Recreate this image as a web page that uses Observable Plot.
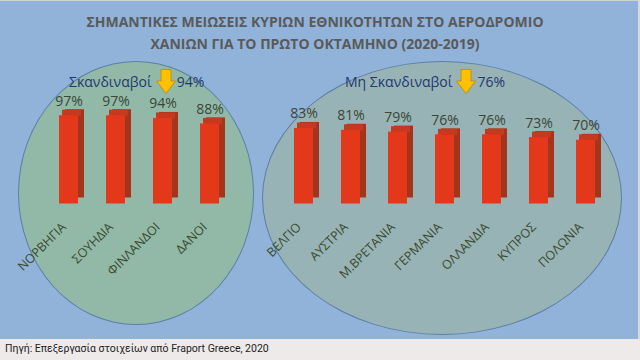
<!DOCTYPE html>
<html>
<head>
<meta charset="utf-8">
<script src="https://cdn.jsdelivr.net/npm/d3@7"></script>
<script src="https://cdn.jsdelivr.net/npm/@observablehq/plot@0.6"></script>
<style>
  html, body { margin: 0; padding: 0; }
  body { width: 640px; height: 360px; overflow: hidden; font-family: "Open Sans", sans-serif; }
  #root { position: relative; width: 640px; height: 360px; background: #EEEAEA; overflow: hidden; }
  #panel { position: absolute; left: 0; top: 1px; width: 638px; height: 338px; background: #91B2D9; }
  #topline { position: absolute; left: 0; top: 0; width: 640px; height: 1px; background: #D0D0D0; }
  #rightline { position: absolute; left: 638px; top: 0; width: 2px; height: 339px; background: #D8D8D8; }
  .ell { position: absolute; box-sizing: border-box; border: 1px solid #5B7FA6; border-radius: 50%; }
  #title { position: absolute; left: 0; top: 11px; width: 630px; text-align: center; font-family: "Open Sans", sans-serif; font-weight: bold; font-size: 14px; line-height: 22px; color: #5A5A5A; }
  .grp { position: absolute; display: flex; align-items: center; height: 26px; font-family: "Open Sans", sans-serif; font-size: 14px; color: #1F3870; white-space: nowrap; }
  .grp svg { display: block; margin: 0 1px 0 4px; }
  #chart { position: absolute; left: 0; top: 0; }
  #caption { position: absolute; left: 5px; top: 342px; font-family: Roboto, sans-serif; font-size: 10.5px; color: #222; white-space: nowrap; }
</style>
</head>
<body>
<div id="root">
  <div id="panel"></div>
  <div id="topline"></div>
  <div id="rightline"></div>
  <div class="ell" style="left:18px;top:61px;width:236px;height:264px;background:#92B9A8;"></div>
  <div class="ell" style="left:262px;top:61px;width:360px;height:274px;background:#98B3B5;"></div>
  <div id="title"></div>
  <div class="grp" id="g0" style="left:69px;top:68px;"></div>
  <div class="grp" id="g1" style="left:345px;top:68px;"></div>
  <div id="chart"></div>
  <div id="caption"></div>
</div>
<script>
// ---- data ----
const titleLines = [
  "ΣΗΜΑΝΤΙΚΕΣ ΜΕΙΩΣΕΙΣ ΚΥΡΙΩΝ ΕΘΝΙΚΟΤΗΤΩΝ ΣΤΟ ΑΕΡΟΔΡΟΜΙΟ",
  "ΧΑΝΙΩΝ ΓΙΑ ΤΟ ΠΡΩΤΟ ΟΚΤΑΜΗΝΟ (2020-2019)"
];
const groupNames = ["Σκανδιναβοί", "Μη Σκανδιναβοί"];
const groupTotals = [94, 76];
const scandiCategories = ["ΝΟΡΒΗΓΙΑ", "ΣΟΥΗΔΙΑ", "ΦΙΝΛΑΝΔΟΙ", "ΔΑΝΟΙ"];
const scandiValues = [97, 97, 94, 88];
const otherCategories = ["ΒΕΛΓΙΟ", "ΑΥΣΤΡΙΑ", "Μ.ΒΡΕΤΑΝΙΑ", "ΓΕΡΜΑΝΙΑ", "ΟΛΛΑΝΔΙΑ", "ΚΥΠΡΟΣ", "ΠΟΛΩΝΙΑ"];
const otherValues = [83, 81, 79, 76, 76, 73, 70];
const captionText = "Πηγή: Επεξεργασία στοιχείων από  Fraport Greece, 2020";

// ---- build ----
document.getElementById("title").innerHTML = titleLines.join("<br>");
document.getElementById("caption").textContent = captionText;

const arrowSvg = '<svg width="20" height="25" viewBox="0 0 20 25"><polygon points="5,0.5 15,0.5 15,12 19.5,12 10,24.5 0.5,12 5,12" fill="#FFC000" stroke="#B98A00" stroke-width="0.8"/></svg>';
groupNames.forEach((g, i) => {
  document.getElementById("g" + i).innerHTML =
    `<span>${g}</span>${arrowSvg}<span>${groupTotals[i]}%</span>`;
});

const rows = [
  ...scandiCategories.map((c, i) => ({cat: c, value: scandiValues[i]})),
  ...otherCategories.map((c, i) => ({cat: c, value: otherValues[i]}))
];
const spacer = " ";
const domain = [...scandiCategories, spacer, ...otherCategories];

const chart = Plot.plot({
  width: 640,
  height: 338,
  margin: 0,
  style: {background: "transparent", overflow: "visible"},
  x: {domain, range: [31, 623], padding: 0.5957, axis: null},
  y: {domain: [0, 100], range: [203.5, 112.5], axis: null},
  marks: [
    Plot.barY(rows, {x: "cat", y: "value", fill: "#A3351C", dx: 6, dy: -6}),
    Plot.tickY(rows, {x: "cat", y: "value", stroke: "#C5391F", strokeWidth: 6, dx: 3, dy: -3}),
    Plot.barY(rows, {x: "cat", y: "value", fill: "#E3381A"}),
    Plot.text(rows, {x: "cat", y: "value", text: d => d.value + "%", lineAnchor: "bottom", dy: -10,
      fontSize: 14, fontFamily: "Open Sans", fill: "#3A4636"}),
    Plot.text(rows, {x: "cat", y: 0, text: "cat", rotate: -45, textAnchor: "end", lineAnchor: "middle",
      dx: -5, dy: 21, fontSize: 12.5, fontFamily: "Open Sans", fill: "#3A4A2E"})
  ]
});
document.getElementById("chart").appendChild(chart);
</script>
</body>
</html>
